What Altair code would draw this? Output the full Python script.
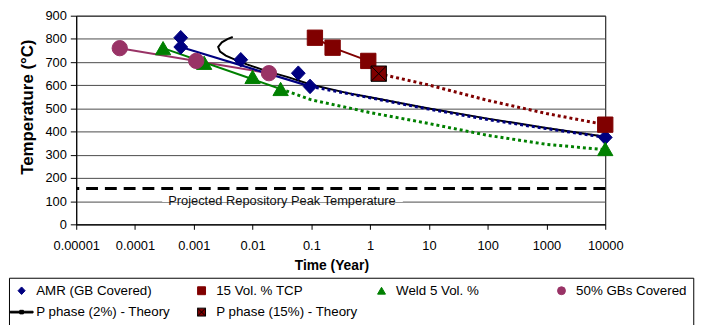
import altair as alt
import pandas as pd

# ---------------- data ----------------
series_names = ["AMR (GB Covered)", "15 Vol. % TCP", "Weld 5 Vol. %",
                "50% GBs Covered", "P phase (2%) - Theory", "P phase (15%) - Theory"]

amr_t = [0.0006, 0.0006, 0.0063, 0.06, 0.095, 10000]
amr_T = [805, 765, 710, 652, 595, 375]
tcp_t = [0.115, 0.23, 0.93, 10000]
tcp_T = [805, 762, 705, 430]
weld_t = [0.0003, 0.0015, 0.01, 0.03, 10000]
weld_T = [760, 697, 636, 584, 325]
gb_t = [0.000055, 0.0011, 0.019]
gb_T = [760, 705, 652]
p15_t = [1.4]
p15_T = [650]

# fitted / extrapolated curves
amr_fit_t = [0.0006, 0.095]
amr_fit_T = [765, 595]
amr_ext_t = [0.095, 1, 10, 100, 1000, 10000]
amr_ext_T = [595, 546, 497, 452, 413, 375]
tcp_fit_t = [0.115, 0.23, 0.93]
tcp_fit_T = [805, 762, 705]
tcp_ext_t = [1.4, 10, 100, 1000, 10000]
tcp_ext_T = [650, 601, 535, 478, 430]
weld_fit_t = [0.0003, 0.03]
weld_fit_T = [760, 584]
weld_ext_t = [0.03, 0.1, 1, 10, 100, 1000, 10000]
weld_ext_T = [584, 537, 482, 435, 384, 345, 322]
gb_fit_t = [0.000055, 0.019]
gb_fit_T = [760, 652]
p2_t = [0.0046, 0.0038, 0.003, 0.0026, 0.0028, 0.0035, 0.0049, 0.008, 0.018,
        0.04, 0.1, 0.4, 1, 10, 100, 1000, 10000]
p2_T = [808, 800, 785, 765, 745, 728, 712, 690, 660, 635, 602, 567, 548,
        500, 456, 416, 378]

peak_T = [155]
note_text = ["Projected Repository Peak Temperature"]
note_t = [0.0316]
note_T = [100]
note_box_t = [0.00029]
note_box_t2 = [3.6]
note_box_T = [96]
note_box_T2 = [104]

x_ticks = [0.00001, 0.0001, 0.001, 0.01, 0.1, 1, 10, 100, 1000, 10000]
y_ticks = [0, 100, 200, 300, 400, 500, 600, 700, 800, 900]

# ---------------- styles ----------------
NAVY, DRED, GREEN, PURP, BLACK = "#000080", "#800000", "#008000", "#993366", "#000000"
fill_colors = [NAVY, DRED, GREEN, PURP, BLACK, DRED]
stroke_colors = [NAVY, DRED, GREEN, PURP, BLACK, BLACK]
shapes = [
    "M0,-0.95L0.9,0L0,0.95L-0.9,0Z",
    "M-1,-1L1,-1L1,1L-1,1Z",
    "triangle-up",
    "circle",
    "M-2.9,-0.22L2.9,-0.22L2.9,0.22L-2.9,0.22Z M-0.45,-0.45L0.45,-0.45L0.45,0.45L-0.45,0.45Z",
    "M-1,-1L1,-1L1,1L-1,1Z M-1,-1L1,1 M1,-1L-1,1",
]
FONT = "Liberation Sans"

x_scale = alt.Scale(type="log", domain=[0.00001, 10000], nice=False)
y_scale = alt.Scale(domain=[0, 900], nice=False)
x_axis = alt.Axis(values=x_ticks, format="~f", title="Time (Year)", grid=False,
                  tickSize=5, labelPadding=10, labelFontSize=13, labelColor="black",
                  labelFont=FONT, domainColor="black", tickColor="black",
                  titleFont=FONT, titleFontSize=14, titleFontWeight="bold",
                  titleColor="black", titleX=258, titleY=42, titleBaseline="middle",
                  titleAlign="center", labelFlush=False, labelOverlap=False)
y_axis = alt.Axis(values=y_ticks, title="Temperature (°C)", grid=True,
                  gridColor="#4a4a4a", gridWidth=1,
                  tickSize=6, labelPadding=4, labelFontSize=13, labelColor="black",
                  labelFont=FONT, domainColor="black", tickColor="black",
                  titleFont=FONT, titleFontSize=17, titleFontWeight="bold",
                  titleColor="black", titleX=-49, titleY=92, titleAngle=-90,
                  titleBaseline="middle", titleAlign="center")


def X(field="time"):
    return alt.X(f"{field}:Q", scale=x_scale, axis=x_axis)


def Y(field="temp"):
    return alt.Y(f"{field}:Q", scale=y_scale, axis=y_axis)


def line_layer(ts, Ts, color, dotted=False, width=2.0):
    df = pd.DataFrame({"time": ts, "temp": Ts, "idx": list(range(len(ts)))})
    kw = dict(color=color, strokeWidth=width, strokeCap="butt")
    if dotted:
        kw["strokeDash"] = [3, 3]
        kw["strokeWidth"] = 3
    return alt.Chart(df).mark_line(**kw).encode(
        x=X(), y=Y(), order=alt.Order("idx:Q"))


# background annotation
note_box = alt.Chart(pd.DataFrame({"time": note_box_t, "time2": note_box_t2,
                                   "temp": note_box_T, "temp2": note_box_T2})
                     ).mark_rect(color="white").encode(
    x=X(), x2="time2:Q", y=Y(), y2="temp2:Q")
note = alt.Chart(pd.DataFrame({"time": note_t, "temp": note_T, "txt": note_text})
                 ).mark_text(font=FONT, fontSize=13, color="#111111",
                             baseline="middle", align="center").encode(
    x=X(), y=Y(), text="txt:N")
peak = alt.Chart(pd.DataFrame({"temp": peak_T})).mark_rule(
    color="black", strokeWidth=3, strokeDash=[12, 7]).encode(y=Y())

lines = [
    line_layer(p2_t, p2_T, BLACK, width=2),
    line_layer(gb_fit_t, gb_fit_T, PURP, width=2),
    line_layer(weld_fit_t, weld_fit_T, GREEN, width=2),
    line_layer(weld_ext_t, weld_ext_T, GREEN, dotted=True),
    line_layer(tcp_fit_t, tcp_fit_T, DRED, width=2),
    line_layer(tcp_ext_t, tcp_ext_T, DRED, dotted=True),
    line_layer(amr_fit_t, amr_fit_T, NAVY, width=2.2),
    line_layer(amr_ext_t, amr_ext_T, NAVY, dotted=True),
]

rows = []
for name, ts, Ts in [(series_names[0], amr_t, amr_T), (series_names[1], tcp_t, tcp_T),
                     (series_names[2], weld_t, weld_T), (series_names[3], gb_t, gb_T),
                     (series_names[5], p15_t, p15_T)]:
    for t, T in zip(ts, Ts):
        rows.append({"series": name, "time": t, "temp": T})
pts_df = pd.DataFrame(rows)

leg = alt.Legend(title=None, orient="none", legendX=-68, legendY=265,
                 direction="horizontal", columns=4, gridAlign="all",
                 columnPadding=17, rowPadding=7, padding=6,
                 strokeColor="black", fillColor="white",
                 labelFont=FONT, labelFontSize=13.5, labelColor="black",
                 labelOffset=8, labelLimit=400, symbolSize=64,
                 symbolStrokeWidth=1)

points = alt.Chart(pts_df).mark_point(filled=True, opacity=1, strokeWidth=1,
                                      size=240).encode(
    x=X(), y=Y(),
    fill=alt.Fill("series:N", scale=alt.Scale(domain=series_names, range=fill_colors), legend=leg),
    stroke=alt.Stroke("series:N", scale=alt.Scale(domain=series_names, range=stroke_colors), legend=leg),
    shape=alt.Shape("series:N", scale=alt.Scale(domain=series_names, range=shapes), legend=leg),
)

chart = alt.layer(note_box, note, peak, *lines, points).properties(
    width=535, height=211,
    autosize=alt.AutoSizeParams(type="none"),
    padding={"left": 69, "top": 6, "right": 112, "bottom": 100},
).configure(font=FONT).configure_view(stroke="black", strokeWidth=1)

chart.save("out.html", embed_options={"renderer": "svg", "actions": False})
